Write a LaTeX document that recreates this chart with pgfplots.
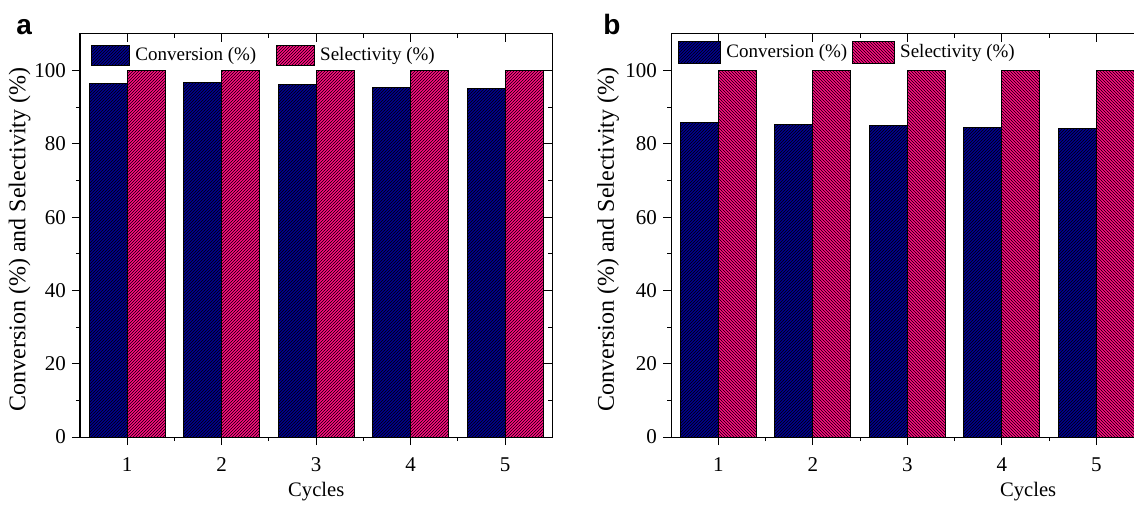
\documentclass[border=0pt]{standalone}
\usepackage{pgfplots}
\pgfplotsset{compat=1.18}
\usetikzlibrary{patterns.meta}
\usepackage{fontspec}
\setmainfont{Liberation Serif}
\newfontfamily\arialfont{Liberation Sans}
\definecolor{convblue}{RGB}{0,0,145}
\definecolor{selpink}{RGB}{255,10,128}
\pgfplotsset{
  base/.style={scale only axis, height=201.5pt, width=236.25pt,
    xmin=0.5, xmax=5.5, ymin=0, ymax=110,
    xtick={1,2,3,4,5}, minor xtick={1.5,2.5,3.5,4.5},
    ytick={0,20,40,60,80,100}, minor ytick={10,30,50,70,90},
    major tick length=4pt, minor tick length=2pt,
    axis line style={line width=0.5pt},
    every tick/.append style={black, line width=0.5pt},
    every minor tick/.append style={black, line width=0.5pt},
    tick label style={font=\fontsize{10.5}{12}\selectfont},
    xticklabel style={yshift=-3pt},
    yticklabel style={xshift=0.5pt},
    /pgf/number format/assume math mode=true},
  mainax/.style={base, xtick pos=bottom, ytick pos=left, tick align=outside,
    ybar, bar width=0.4,
    label style={font=\fontsize{10.3}{12}\selectfont},
    ylabel style={font=\fontsize{12}{14}\selectfont},
    legend columns=2, legend cell align=left},
  overax/.style={base, xtick pos=top, ytick pos=right, tick align=inside,
    xticklabels={}, yticklabels={}},
  conv/.style={fill=convblue, draw=black, line width=0.5pt,
    postaction={pattern={Lines[angle=45,distance=1.0607pt,line width=0.27pt]}, pattern color=black}},
  selA/.style={fill=selpink, draw=black, line width=0.5pt,
    postaction={pattern={Lines[angle=45,distance=1.0607pt,line width=0.27pt]}, pattern color=black}},
  selB/.style={fill=selpink, draw=black, line width=0.5pt,
    postaction={pattern={Lines[angle=-45,distance=1.0607pt,line width=0.27pt]}, pattern color=black}},
  legA/.style={legend image code/.code={\draw[##1] (0pt,-5pt) rectangle (19pt,5pt);}},
  legB/.style={legend image code/.code={\draw[##1] (0pt,-5.5pt) rectangle (21pt,5.5pt);}},
}
\begin{document}
\begin{tikzpicture}
\useasboundingbox (-40pt,-33.5pt) rectangle (527pt,218.5pt);
\clip (-40pt,-33.5pt) rectangle (527pt,218.5pt);

\begin{axis}[mainax, at={(0pt,0pt)}, anchor=south west,
  xlabel={Cycles}, xlabel style={at={(axis description cs:0.5,-0.1365)}, anchor=center},
  ylabel={Conversion (\%) and Selectivity (\%)},
  ylabel style={at={(axis description cs:-0.128,0.49)}, anchor=center},
  legend style={at={(0,1)}, anchor=north west, xshift=5.5pt, yshift=-4pt,
    draw=none, fill=none, inner xsep=0pt, inner ysep=0pt,
    font=\fontsize{9.5}{11}\selectfont, nodes={inner sep=2.5pt},
    /tikz/every even column/.append style={column sep=7.5pt}}]
\addplot[conv, bar shift=-0.2, legA] coordinates {(1,96.4) (2,96.7) (3,96.1) (4,95.4) (5,95.2)};
\addplot[selA, bar shift=0.2, legA] coordinates {(1,100) (2,100) (3,100) (4,100) (5,100)};
\legend{Conversion (\%), Selectivity (\%)}
\end{axis}
\begin{axis}[overax, at={(0pt,0pt)}, anchor=south west]
\end{axis}

\begin{axis}[mainax, at={(295.5pt,0pt)}, anchor=south west,
  xlabel={Cycles}, xlabel style={at={(axis description cs:0.756,-0.1365)}, anchor=center},
  ylabel={Conversion (\%) and Selectivity (\%)},
  ylabel style={at={(axis description cs:-0.133,0.49)}, anchor=center},
  legend style={at={(0,1)}, anchor=north west, xshift=3.5pt, yshift=-2.5pt,
    draw=none, fill=none, inner xsep=0pt, inner ysep=0pt,
    font=\fontsize{9.5}{11}\selectfont, nodes={inner sep=2.5pt},
    /tikz/every even column/.append style={column sep=0pt}}]
\addplot[conv, bar shift=-0.2, legB] coordinates {(1,85.8) (2,85.3) (3,85.1) (4,84.6) (5,84.3)};
\addplot[selB, bar shift=0.2, legB] coordinates {(1,100) (2,100) (3,100) (4,100) (5,100)};
\legend{Conversion (\%), Selectivity (\%)}
\end{axis}
\begin{axis}[overax, at={(295.5pt,0pt)}, anchor=south west]
\end{axis}

\node[font=\arialfont\bfseries\fontsize{14}{14}\selectfont, anchor=base west, inner sep=0pt] at (-32pt,201pt) {a};
\node[font=\arialfont\bfseries\fontsize{14}{14}\selectfont, anchor=base west, inner sep=0pt] at (261.5pt,201pt) {b};
\end{tikzpicture}
\end{document}
